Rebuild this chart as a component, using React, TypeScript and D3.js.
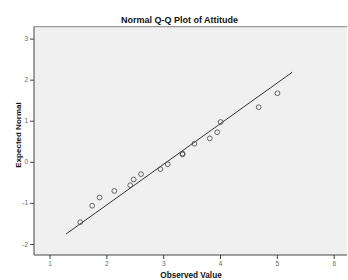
import { useEffect, useRef } from "react";
import * as d3 from "d3";

// observed values (x) and expected normal values (y)
const observed = [1.54, 1.75, 1.88, 2.14, 2.42, 2.48, 2.61, 2.95, 3.08, 3.34, 3.34, 3.55, 3.82, 3.95, 4.01, 4.68, 5.01];
const expected = [-1.47, -1.07, -0.87, -0.71, -0.57, -0.43, -0.30, -0.18, -0.06, 0.18, 0.20, 0.44, 0.57, 0.72, 0.97, 1.33, 1.67];
// reference line end points
const lineX = [1.29, 5.27];
const lineY = [-1.76, 2.18];
const xTicks = [1, 2, 3, 4, 5, 6];
const yTicks = [-2, -1, 0, 1, 2, 3];

const W = 348;
const H = 280;
const font = "'Liberation Sans', Arial, sans-serif";

const App = () => {
  const svgRef = useRef(null);

  useEffect(() => {
    const left = 34, right = 347, top = 26.7, bottom = 255;
    const x = d3.scaleLinear().domain([0.727, 6.234]).range([left, right]);
    const y = d3.scaleLinear().domain([-2.27, 3.29]).range([bottom, top]);

    const svg = d3.select(svgRef.current);
    svg.selectAll("*").remove();

    svg.append("rect").attr("width", W).attr("height", H).attr("fill", "#ffffff");

    // plot background
    svg
      .append("rect")
      .attr("x", left)
      .attr("y", top)
      .attr("width", right - left)
      .attr("height", bottom - top)
      .attr("fill", "#f0f0f0");

    svg
      .append("line")
      .attr("x1", left).attr("x2", right)
      .attr("y1", top).attr("y2", top)
      .attr("stroke", "#9a9a9a").attr("stroke-width", 1.2);

    // x axis
    const xAxis = d3.axisBottom(x).tickValues(xTicks).tickSize(4).tickPadding(2).tickFormat((d) => String(d));
    const xg = svg.append("g").attr("transform", `translate(0,${bottom})`).call(xAxis);
    xg.select(".domain").attr("stroke", "#444").attr("d", `M${left},0H${right}`);
    xg.selectAll("line").attr("stroke", "#444");
    xg.selectAll("text").attr("font-family", font).attr("font-size", 6.5).attr("fill", "#666");

    // y axis
    const yAxis = d3.axisLeft(y).tickValues(yTicks).tickSize(4).tickPadding(2).tickFormat((d) => String(d));
    const yg = svg.append("g").attr("transform", `translate(${left},0)`).call(yAxis);
    yg.select(".domain").attr("stroke", "#444").attr("d", `M0,${top}V${bottom}`);
    yg.selectAll("line").attr("stroke", "#444");
    yg.selectAll("text").attr("font-family", font).attr("font-size", 6.5).attr("fill", "#666");

    // reference line
    const line = d3
      .line<number>()
      .x((d) => x(d))
      .y((_, i) => y(lineY[i]));
    svg
      .append("path")
      .attr("d", line(lineX))
      .attr("fill", "none")
      .attr("stroke", "#333")
      .attr("stroke-width", 1);

    // points
    svg
      .selectAll(".pt")
      .data(observed)
      .enter()
      .append("circle")
      .attr("cx", (d) => x(d))
      .attr("cy", (_, i) => y(expected[i]))
      .attr("r", 2.4)
      .attr("fill", "none")
      .attr("stroke", "#444")
      .attr("stroke-width", 0.8);

    // titles
    svg
      .append("text")
      .attr("x", 179.5)
      .attr("y", 23)
      .attr("text-anchor", "middle")
      .attr("font-family", font)
      .attr("font-weight", "bold")
      .attr("font-size", 9)
      .attr("fill", "#111")
      .text("Normal Q-Q Plot of Attitude");

    svg
      .append("text")
      .attr("x", 191)
      .attr("y", 278)
      .attr("text-anchor", "middle")
      .attr("font-family", font)
      .attr("font-weight", "bold")
      .attr("font-size", 8.2)
      .attr("fill", "#111")
      .text("Observed Value");

    svg
      .append("text")
      .attr("transform", "translate(20.5,135) rotate(-90)")
      .attr("text-anchor", "middle")
      .attr("font-family", font)
      .attr("font-weight", "bold")
      .attr("font-size", 8)
      .attr("fill", "#111")
      .text("Expected Normal");
  }, []);

  return (
    <svg
      ref={svgRef}
      width={W}
      height={H}
      style={{ position: "absolute", left: 0, top: 0, display: "block" }}
    />
  );
};

export default App;
